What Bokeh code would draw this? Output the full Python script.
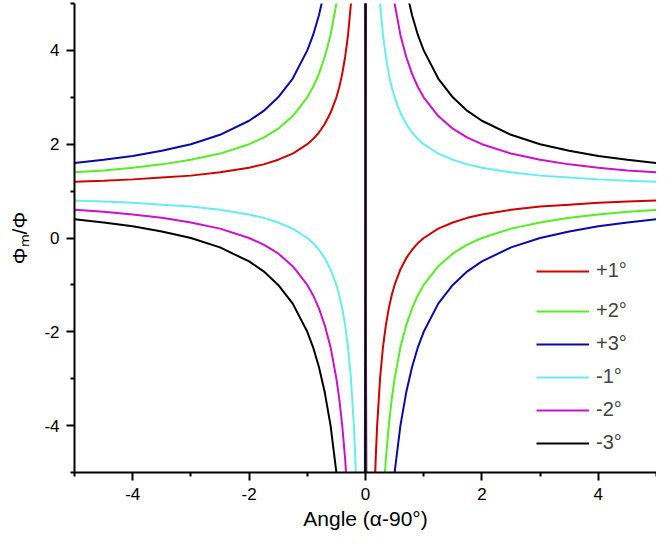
from bokeh.plotting import figure
from bokeh.models import Legend, LegendItem, FixedTicker, Range1d
from bokeh.embed import file_html
from bokeh.resources import INLINE

# ---- data ----
x_vals = [-5, -4.5, -4, -3.5, -3, -2.5, -2, -1.75, -1.5, -1.25, -1, -0.9, -0.8, -0.7, -0.6,
          -0.5, -0.45, -0.4, -0.35, -0.3, -0.25, -0.2, -0.175, -0.15, -0.125, -0.1, -0.05,
          0.05, 0.1, 0.125, 0.15, 0.175, 0.2, 0.25, 0.3, 0.35, 0.4, 0.45, 0.5, 0.6, 0.7,
          0.8, 0.9, 1, 1.25, 1.5, 1.75, 2, 2.5, 3, 3.5, 4, 4.5, 5]

plus1 = [1.2, 1.22, 1.25, 1.29, 1.33, 1.4, 1.5, 1.57, 1.67, 1.8, 2, 2.11, 2.25, 2.43, 2.67,
         3, 3.22, 3.5, 3.86, 4.33, 5, 6, 6.71, 7.67, 9, 11, 21,
         -19, -9, -7, -5.67, -4.71, -4, -3, -2.33, -1.86, -1.5, -1.22, -1, -0.67, -0.43,
         -0.25, -0.11, 0, 0.2, 0.33, 0.43, 0.5, 0.6, 0.67, 0.71, 0.75, 0.78, 0.8]

plus2 = [1.4, 1.44, 1.5, 1.57, 1.67, 1.8, 2, 2.14, 2.33, 2.6, 3, 3.22, 3.5, 3.86, 4.33,
         5, 5.44, 6, 6.71, 7.67, 9, 11, 12.43, 14.33, 17, 21, 41,
         -39, -19, -15, -12.33, -10.43, -9, -7, -5.67, -4.71, -4, -3.44, -3, -2.33, -1.86,
         -1.5, -1.22, -1, -0.6, -0.33, -0.14, 0, 0.2, 0.33, 0.43, 0.5, 0.56, 0.6]

plus3 = [1.6, 1.67, 1.75, 1.86, 2, 2.2, 2.5, 2.71, 3, 3.4, 4, 4.33, 4.75, 5.29, 6,
         7, 7.67, 8.5, 9.57, 11, 13, 16, 18.14, 21, 25, 31, 61,
         -59, -29, -23, -19, -16.14, -14, -11, -9, -7.57, -6.5, -5.67, -5, -4, -3.29,
         -2.75, -2.33, -2, -1.4, -1, -0.71, -0.5, -0.2, 0, 0.14, 0.25, 0.33, 0.4]

minus1 = [0.8, 0.78, 0.75, 0.71, 0.67, 0.6, 0.5, 0.43, 0.33, 0.2, 0, -0.11, -0.25, -0.43, -0.67,
          -1, -1.22, -1.5, -1.86, -2.33, -3, -4, -4.71, -5.67, -7, -9, -19,
          21, 11, 9, 7.67, 6.71, 6, 5, 4.33, 3.86, 3.5, 3.22, 3, 2.67, 2.43,
          2.25, 2.11, 2, 1.8, 1.67, 1.57, 1.5, 1.4, 1.33, 1.29, 1.25, 1.22, 1.2]

minus2 = [0.6, 0.56, 0.5, 0.43, 0.33, 0.2, 0, -0.14, -0.33, -0.6, -1, -1.22, -1.5, -1.86, -2.33,
          -3, -3.44, -4, -4.71, -5.67, -7, -9, -10.43, -12.33, -15, -19, -39,
          41, 21, 17, 14.33, 12.43, 11, 9, 7.67, 6.71, 6, 5.44, 5, 4.33, 3.86,
          3.5, 3.22, 3, 2.6, 2.33, 2.14, 2, 1.8, 1.67, 1.57, 1.5, 1.44, 1.4]

minus3 = [0.4, 0.33, 0.25, 0.14, 0, -0.2, -0.5, -0.71, -1, -1.4, -2, -2.33, -2.75, -3.29, -4,
          -5, -5.67, -6.5, -7.57, -9, -11, -14, -16.14, -19, -23, -29, -59,
          61, 31, 25, 21, 18.14, 16, 13, 11, 9.57, 8.5, 7.67, 7, 6, 5.29,
          4.75, 4.33, 4, 3.4, 3, 2.71, 2.5, 2.2, 2, 1.86, 1.75, 1.67, 1.6]

series_labels = ["+1°", "+2°", "+3°", "-1°", "-2°", "-3°"]
series_values = [plus1, plus2, plus3, minus1, minus2, minus3]
series_colors = ["#d00000", "#55ee22", "#0a0aa8", "#66eeee", "#cc11cc", "#000000"]

major_ticks = [-4, -2, 0, 2, 4]
minor_ticks = [-5, -3, -1, 1, 3, 5]
tick_texts = ["-4", "-2", "0", "2", "4"]

FONT = "Liberation Sans"

p = figure(width=656, height=536, output_backend="svg", toolbar_location=None,
           x_range=Range1d(-5, 5), y_range=Range1d(-5, 5),
           min_border_left=74, min_border_right=0, min_border_top=3, min_border_bottom=64,
           x_axis_label="Angle (α-90°)", y_axis_label="Φₘ/Φ")
p.outline_line_color = None
p.grid.visible = False
p.background_fill_color = "white"

renderers = []
for vals, col in zip(series_values, series_colors):
    r = p.line(x_vals, vals, line_color=col, line_width=2)
    renderers.append(r)

for ax in (p.xaxis[0], p.yaxis[0]):
    ax.ticker = FixedTicker(ticks=major_ticks, minor_ticks=minor_ticks)
    ax.major_label_overrides = dict(zip(major_ticks, tick_texts))
    ax.axis_line_width = 2
    ax.major_tick_line_width = 2
    ax.minor_tick_line_width = 2
    ax.major_tick_out = 8
    ax.major_tick_in = 0
    ax.minor_tick_out = 4
    ax.minor_tick_in = 0
    ax.major_label_text_font = FONT
    ax.major_label_text_font_size = "17px"
    ax.major_label_text_color = "black"
    ax.axis_label_text_font = FONT
    ax.axis_label_text_font_size = "21px"
    ax.axis_label_text_font_style = "normal"
    ax.axis_label_text_color = "black"
    ax.major_label_standoff = 7

p.yaxis[0].axis_label_standoff = 10
p.xaxis[0].axis_label_standoff = 4

def make_legend(items, loc):
    lg = Legend(items=items, location=loc, orientation="vertical",
                border_line_color=None, background_fill_alpha=0,
                padding=0, margin=0, spacing=10,
                glyph_width=53, glyph_height=20, label_height=20, label_standoff=7,
                label_text_font=FONT, label_text_font_size="20px")
    return lg

items = [LegendItem(label=lab, renderers=[r]) for lab, r in zip(series_labels, renderers)]
p.add_layout(make_legend(items[:1], (462, 190)), "center")
p.add_layout(make_legend(items[1:], (462, 18)), "center")

open("out.html", "w").write(file_html(p, INLINE))
